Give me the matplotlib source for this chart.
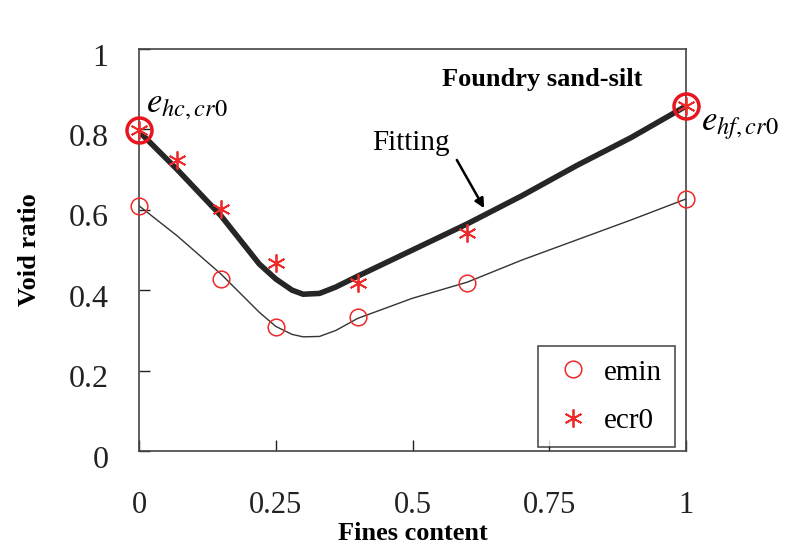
import matplotlib
matplotlib.use("Agg")
import matplotlib.pyplot as plt
from matplotlib.transforms import ScaledTranslation

plt.rcParams["font.family"] = ["Liberation Serif", "DejaVu Serif"]
plt.rcParams["mathtext.fontset"] = "stix"

# measured points
fc_emin = [0, 0.15, 0.25, 0.4, 0.6, 1.0]
emin = [0.61, 0.428, 0.308, 0.333, 0.418, 0.627]

fc_ecr0 = [0, 0.07, 0.15, 0.25, 0.4, 0.6, 1.0]
ecr0 = [0.798, 0.724, 0.602, 0.468, 0.418, 0.542, 0.858]

# fitted curves
fc_fit = [0, 0.07, 0.15, 0.22, 0.25, 0.28, 0.3, 0.33, 0.36, 0.4, 0.5, 0.6, 0.7, 0.8, 0.9, 1.0]
ecr0_fit = [0.795, 0.70, 0.585, 0.465, 0.428, 0.40, 0.39, 0.392, 0.408, 0.435, 0.50, 0.565, 0.635, 0.71, 0.78, 0.858]
emin_fit = [0.61, 0.535, 0.44, 0.345, 0.31, 0.29, 0.284, 0.285, 0.30, 0.33, 0.38, 0.42, 0.475, 0.525, 0.575, 0.627]

x_ticks = [0, 0.25, 0.5, 0.75, 1]
x_tick_labels = ["0", "0.25", "0.5", "0.75", "1"]
y_ticks = [0, 0.2, 0.4, 0.6, 0.8, 1]
y_tick_labels = ["0", "0.2", "0.4", "0.6", "0.8", "1"]

fig = plt.figure(figsize=(7.87, 5.47), dpi=100)
ax = fig.add_axes([0.1766, 0.1755, 0.6951, 0.7349])

ax.plot(fc_fit, emin_fit, color="#333333", lw=1.0, zorder=2)
ax.plot(fc_fit, ecr0_fit, color="#262626", lw=4.0, zorder=2, solid_capstyle="round")

ax.plot(fc_emin, emin, ls="none", marker="o", ms=12, mfc="none", mec="#ee2a2a",
        mew=1.1, label="emin", zorder=3, clip_on=False)
ax.plot(fc_ecr0, ecr0, ls="none", marker=(6, 2, 0), ms=13, mec="#ee2a2a",
        mew=1.3, label="ecr0", zorder=3, clip_on=False)

# highlighted end points
ax.plot([fc_ecr0[0], fc_ecr0[-1]], [ecr0[0], ecr0[-1]], ls="none", marker="o", ms=18,
        mfc="none", mec="#e8141e", mew=2.5, zorder=4, clip_on=False)

ax.set_xlim(0, 1)
ax.set_ylim(0, 1)
ax.set_xticks(x_ticks)
ax.set_xticklabels(x_tick_labels)
ax.set_yticks(y_ticks)
ax.set_yticklabels(y_tick_labels)
ax.tick_params(axis="x", direction="in", length=8, width=1, pad=29, labelsize=22, colors="#222222")
ax.tick_params(axis="y", direction="in", length=8, width=1, pad=22, labelsize=23, colors="#222222")
for lbl in ax.get_yticklabels():
    lbl.set_transform(lbl.get_transform() + ScaledTranslation(0, -4 / 72, fig.dpi_scale_trans))
for s in ax.spines.values():
    s.set_color("#444444")
    s.set_linewidth(1.2)

ax.set_xlabel("Fines content", fontsize=19, fontweight="bold", labelpad=1)
ax.set_ylabel("Void ratio", fontsize=19, fontweight="bold", labelpad=20)

ax.text(0.737, 0.925, "Foundry sand-silt", fontsize=19, fontweight="bold",
        ha="center", va="center")
ax.text(0.497, 0.766, "Fitting", fontsize=21, ha="center", va="center")
ax.annotate("", xy=(0.631, 0.604), xytext=(0.581, 0.724),
            arrowprops=dict(arrowstyle="-|>", color="black", lw=1.8,
                            shrinkA=0, shrinkB=0, mutation_scale=14))

ax.text(0.012, 0.86, r"$e_{hc,cr0}$", fontsize=25, ha="left", va="center")
ax.text(1.027, 0.81, r"$e_{hf,cr0}$", fontsize=25, ha="left", va="center", clip_on=False)

leg = ax.legend(loc="lower right", bbox_to_anchor=(0.98, 0.01), fontsize=21,
                frameon=True, fancybox=False, edgecolor="#222222", borderaxespad=0,
                handletextpad=0.3, borderpad=0.45, labelspacing=0.75, handlelength=1.5)
leg.get_frame().set_linewidth(1.2)

fig.savefig("out.png", dpi=100, facecolor="white")
